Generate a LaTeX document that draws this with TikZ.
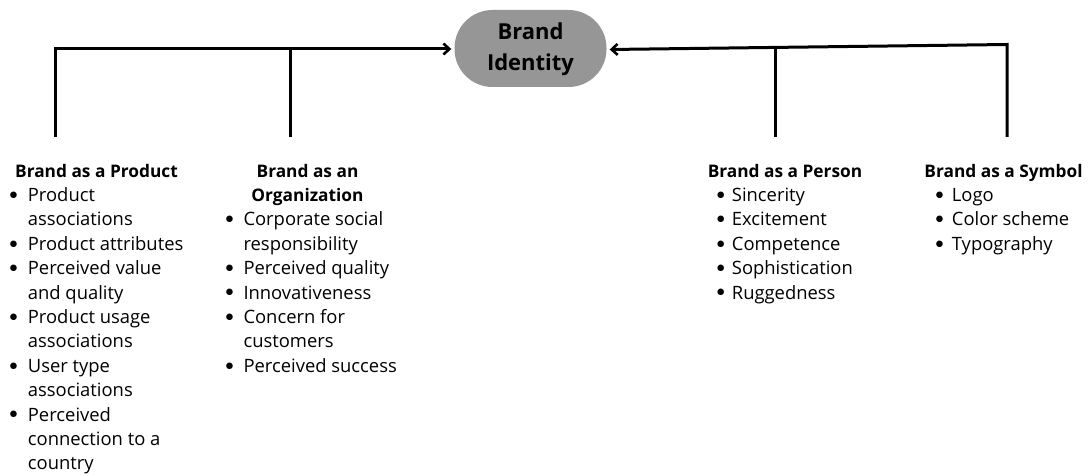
\documentclass[tikz,border=0pt]{standalone}
\usepackage{fontspec}
\setmainfont{Open Sans}
\newfontfamily\dotfont{DejaVu Sans}
\usetikzlibrary{arrows.meta}

% bullet list helpers: a round bullet, the gap after it, continuation lines
\newlength\bgap
\newcommand\bdot{\makebox[6pt][c]{\raisebox{4.2pt}{\dotfont\fontsize{8.5}{8.5}\selectfont ●}}}
\newcommand\bl[1]{\hbox{\bdot\hspace*{\bgap}#1}}
\newcommand\cl[1]{\hbox{\hspace*{6pt}\hspace*{\bgap}#1}}
\newcommand\blist[2]{\vtop{\setlength\bgap{#1}\baselineskip=24.4pt\lineskiplimit=-30pt #2}}

\definecolor{hubgray}{RGB}{150,150,150}

\begin{document}
\begin{tikzpicture}[x=1pt,y=-1pt,
    conn/.style={line width=3pt, line join=miter},
    arr/.style={conn, -{Straight Barb[length=6pt,width=11pt,line width=2.6pt]}},
    head/.style={inner sep=0pt, font=\fontsize{17.3}{24.4}\selectfont\bfseries, anchor=base},
    items/.style={inner sep=0pt, font=\fontsize{18.4}{24.4}\selectfont, anchor=base west},
    hub/.style={rectangle, rounded corners=38pt, fill=hubgray, minimum width=152pt,
      minimum height=77pt, inner sep=0pt,
      font=\fontsize{22}{31}\selectfont\bfseries}]
  \useasboundingbox (0,0) rectangle (1089,476);

  % central node
  \node[hub] (bi) at (530.5,48.5)
    {\raisebox{-2pt}{\begin{tabular}{@{}c@{}}Brand\\Identity\end{tabular}}};

  % free ends of the connectors
  \coordinate (prodtop) at (55,137);
  \coordinate (orgtop) at (290,137);
  \coordinate (pertop) at (775,137);
  \coordinate (symtop) at (1007,137);
  \coordinate (symcorner) at (1007,44.5);

  % left branch
  \draw[arr] (prodtop) |- ([xshift=-3pt,yshift=-0.5pt]bi.west);
  \draw[conn] (orgtop) -- (290,48);
  % right branch
  \draw[arr] (symtop) -- (symcorner) -- ([xshift=3pt,yshift=-1pt]bi.east);
  \draw[conn] (pertop) -- (775,46.3);

  % headings
  \node[head] (hprod) at (96.5,177) {Brand as a Product};
  \node[head] (horg) at (307.5,177)
    {\begin{tabular}[t]{@{}c@{}}Brand as an\\Organization\end{tabular}};
  \node[head] (hper) at (785,177) {Brand as a Person};
  \node[head] (hsym) at (1003.5,177) {Brand as a Symbol};

  % item lists
  \node[items] (lprod) at (10.3,201.5) {\blist{11.4pt}{%
    \bl{Product}\cl{associations}%
    \bl{Product attributes}%
    \bl{Perceived value}\cl{and quality}%
    \bl{Product usage}\cl{associations}%
    \bl{User type}\cl{associations}%
    \bl{Perceived}\cl{connection to a}\cl{country}}};
  \node[items] (lorg) at (226.3,225.9) {\blist{11pt}{%
    \bl{Corporate social}\cl{responsibility}%
    \bl{Perceived quality}%
    \bl{Innovativeness}%
    \bl{Concern for}\cl{customers}%
    \bl{Perceived success}}};
  \node[items] (lper) at (717.7,201.5) {\blist{8pt}{%
    \bl{Sincerity}%
    \bl{Excitement}%
    \bl{Competence}%
    \bl{Sophistication}%
    \bl{Ruggedness}}};
  \node[items] (lsym) at (936.3,201.5) {\blist{9.4pt}{%
    \bl{Logo}%
    \bl{Color scheme}%
    \bl{Typography}}};
\end{tikzpicture}
\end{document}
